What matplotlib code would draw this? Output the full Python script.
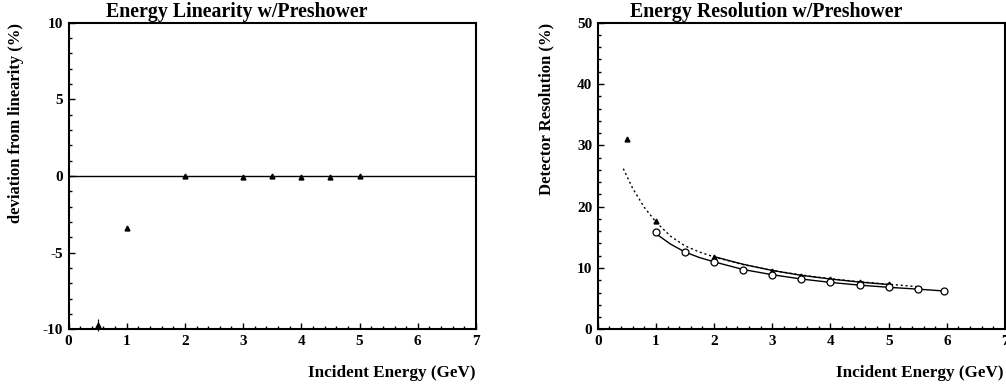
import matplotlib
matplotlib.use("Agg")
import matplotlib.pyplot as plt
from matplotlib.ticker import MultipleLocator

plt.rcParams['font.family'] = ['Liberation Serif', 'DejaVu Serif']
plt.rcParams['font.weight'] = 'bold'
plt.rcParams['axes.unicode_minus'] = False

# ---- Linearity data ----
lin_E = [0.5, 1.0, 2.0, 3.0, 3.5, 4.0, 4.5, 5.0]
lin_dev = [-9.7, -3.4, 0.0, -0.05, 0.0, -0.05, -0.05, 0.0]
lin_err = [0.4, 0.0, 0.0, 0.0, 0.0, 0.0, 0.0, 0.0]

# ---- Resolution data ----
res_tri_E = [0.5, 1.0, 2.0, 3.0, 3.5, 4.0, 4.5, 5.0]
res_tri = [31.0, 17.6, 11.8, 9.5, 8.7, 8.2, 7.7, 7.35]
res_circ_E = [1.0, 1.5, 2.0, 2.5, 3.0, 3.5, 4.0, 4.5, 5.0, 5.5, 5.95]
res_circ = [15.9, 12.6, 11.0, 9.65, 8.85, 8.25, 7.65, 7.2, 6.9, 6.6, 6.25]

# fit curves
dot_E = [0.44, 0.6, 0.8, 1.0, 1.25, 1.5, 1.75, 2.0, 2.5, 3.0, 3.5, 4.0, 4.5, 5.0, 5.5]
dot_R = [26.2, 23.0, 19.9, 17.5, 15.2, 13.6, 12.6, 11.8, 10.55, 9.6, 8.85, 8.25, 7.75, 7.35, 6.95]
up_E = [2.0, 2.5, 3.0, 3.5, 4.0, 4.5, 5.0]
up_R = [11.85, 10.6, 9.6, 8.8, 8.2, 7.7, 7.3]
low_E = [1.0, 1.25, 1.5, 1.75, 2.0, 2.5, 3.0, 3.5, 4.0, 4.5, 5.0, 5.5, 5.95]
low_R = [15.6, 13.9, 12.6, 11.7, 11.0, 9.75, 8.9, 8.2, 7.65, 7.2, 6.85, 6.55, 6.25]

W, H = 1006, 386
fig = plt.figure(figsize=(W / 100, H / 100), dpi=100)

def axes_px(x0, x1, ytop, ybot):
    return fig.add_axes([x0 / W, 1 - ybot / H, (x1 - x0) / W, (ybot - ytop) / H])

ax1 = axes_px(68.5, 476, 22.7, 329.3)
ax2 = axes_px(597.7, 1005, 22.7, 329.3)

for ax in (ax1, ax2):
    ax.set_xlim(0, 7)
    ax.xaxis.set_major_locator(MultipleLocator(1))
    ax.xaxis.set_minor_locator(MultipleLocator(0.2))
    ax.tick_params(which='both', direction='in', top=False, right=False)
    ax.tick_params(which='major', length=4, width=1.0, labelsize=11, pad=4)
    ax.tick_params(which='minor', length=2.5, width=1.0)
    for sp in ax.spines.values():
        sp.set_linewidth(1.5)

# Left panel
ax1.set_ylim(-10, 10)
ax1.yaxis.set_major_locator(MultipleLocator(5))
ax1.yaxis.set_minor_locator(MultipleLocator(1))
ax1.axhline(0, color='black', lw=1.0)
ax1.errorbar(lin_E, lin_dev, yerr=lin_err, fmt='^', color='black', ms=3.5,
             elinewidth=0.8, capsize=0, clip_on=False)

# Right panel
ax2.set_ylim(0, 50)
ax2.yaxis.set_major_locator(MultipleLocator(10))
ax2.yaxis.set_minor_locator(MultipleLocator(2))
ax2.plot(dot_E, dot_R, ls=(0, (1.5, 2)), color='black', lw=1.0)
ax2.plot(up_E, up_R, ls='-', color='black', lw=1.0)
ax2.plot(low_E, low_R, ls='-', color='black', lw=1.0)
ax2.plot(res_tri_E, res_tri, '^', color='black', ms=3.5, ls='none')
ax2.plot(res_circ_E, res_circ, 'o', mfc='white', mec='black', mew=0.9, ms=5, ls='none')

for ax in (ax1, ax2):
    for lab in ax.get_xticklabels() + ax.get_yticklabels():
        lab.set_fontweight('bold')

# Titles
fig.text(237 / W, 1 - 12 / H, 'Energy Linearity w/Preshower', ha='center', va='center',
         fontsize=14.3, fontweight='bold')
fig.text(766 / W, 1 - 12 / H, 'Energy Resolution w/Preshower', ha='center', va='center',
         fontsize=14.3, fontweight='bold')

# x labels
fig.text(476 / W, 1 - 373 / H, 'Incident Energy (GeV)', ha='right', va='center',
         fontsize=12.3, fontweight='bold')
fig.text(1003 / W, 1 - 373 / H, 'Incident Energy (GeV)', ha='right', va='center',
         fontsize=12.3, fontweight='bold')

# y labels
fig.text(16 / W, 1 - 23 / H, 'deviation from linearity (%)', ha='center', va='top',
         rotation=90, fontsize=12, fontweight='bold')
fig.text(546 / W, 1 - 23 / H, 'Detector Resolution (%)', ha='center', va='top',
         rotation=90, fontsize=12, fontweight='bold')

fig.savefig('out.png', dpi=100)
